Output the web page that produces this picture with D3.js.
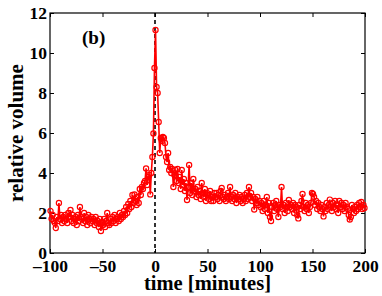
<!DOCTYPE html>
<html>
<head>
<meta charset="utf-8">
<script src="https://cdn.jsdelivr.net/npm/d3@7"></script>
<style>
  body { margin: 0; background: #fff; }
  svg text { font-family: "Liberation Serif", "Times New Roman", serif; font-weight: bold; }
</style>
</head>
<body>
<div id="chart"></div>
<script>
// relative volume, one sample per minute, samples centred on half minutes
var volBefore = [
    2.1, 1.7, 1.9, 1.6, 1.5, 1.25, 1.8, 1.6, 2.5, 1.7,
    1.9, 1.5, 1.8, 1.6, 1.9, 1.7, 1.5, 2.0, 1.8, 2.15,
    1.6, 1.9, 1.5, 1.7, 1.8, 1.4, 1.9, 1.6, 2.3, 1.8,
    1.7, 1.5, 2.0, 1.6, 1.8, 1.4, 1.9, 1.7, 1.5, 1.8,
    1.6, 1.7, 1.4, 1.8, 1.5, 1.6, 1.3, 1.7, 1.1, 1.5,
    1.4, 1.7, 1.3, 1.6, 2.0, 1.5, 1.4, 1.7, 1.5, 1.8,
    1.6, 1.9, 1.5, 1.7, 1.8, 1.6, 2.0, 1.7, 1.9, 1.8,
    2.1, 1.9, 2.3, 2.0, 2.45, 2.2, 2.6, 2.3, 2.9, 2.5,
    2.93, 2.6, 2.4, 2.8, 2.5, 3.2, 2.9, 3.3, 3.2, 3.5,
    3.6, 4.23, 3.4, 3.8, 3.9, 2.93, 4.0, 4.8, 5.98, 9.25
];
var volAfter = [
    11.15, 8.3, 8.0, 6.55, 5.0, 5.75, 5.6, 5.8, 5.75, 5.5,
    4.8, 4.55, 5.0, 4.15, 4.3, 4.0, 4.2, 3.3, 3.9, 4.15,
    3.6, 4.2, 3.5, 3.8, 3.2, 4.15, 3.4, 3.7, 3.1, 3.5,
    2.65, 3.3, 4.4, 3.0, 3.5, 2.9, 3.7, 3.07, 3.2, 2.8,
    3.3, 2.9, 3.1, 2.7, 3.5, 3.0, 2.8, 3.2, 2.6, 3.0,
    2.9, 2.7, 3.1, 2.6, 2.8, 2.6, 3.0, 2.8, 3.0, 2.7,
    2.9, 2.6, 3.1, 3.25, 2.8, 2.7, 2.9, 2.6, 2.8, 3.0,
    2.7, 3.3, 2.8, 2.6, 2.9, 2.7, 3.0, 2.5, 2.8, 2.7,
    2.9, 2.6, 2.8, 2.5, 2.7, 2.9, 2.6, 3.0, 2.7, 3.3,
    2.8, 3.0, 2.6, 2.8, 2.17, 2.7, 2.5, 2.8, 2.4, 2.6,
    2.3, 2.5, 2.1, 2.6, 2.2, 2.4, 2.8, 2.0, 2.5, 1.8,
    1.6, 2.3, 2.5, 2.1, 2.4, 2.6, 2.2, 1.8, 2.4, 2.3,
    3.3, 2.2, 2.4, 2.0, 2.5, 2.3, 2.1, 2.65, 2.3, 2.4,
    2.2, 2.5, 2.0, 2.4, 2.3, 1.9, 1.73, 2.4, 2.2, 2.6,
    2.95, 2.3, 2.1, 2.5, 2.2, 2.4, 2.0, 2.3, 2.5, 3.0,
    2.95, 2.8, 2.4, 2.6, 2.2, 2.5, 2.3, 2.1, 2.4, 2.2,
    1.83, 2.3, 2.1, 2.5, 2.2, 2.4, 2.67, 2.3, 2.1, 2.5,
    2.3, 2.6, 2.2, 2.4, 2.0, 2.6, 2.3, 2.5, 2.2, 2.4,
    2.1, 2.5, 2.3, 2.2, 1.9, 1.67, 1.8, 2.4, 2.2, 2.0,
    2.3, 2.1, 2.4, 2.2, 2.5, 2.3, 2.55, 2.2, 2.4, 2.25
];
var volume = volBefore.concat(volAfter);
// time grid in minutes (-99.5 ... 199.5)
var minutes = d3.range(-99.5, 200, 1);

var xTicks = [-100, -50, 0, 50, 100, 150, 200];
var yTicks = [0, 2, 4, 6, 8, 10, 12];

var data = volume.map(function(v, i) { return { t: minutes[i], v: v }; });

var W = 382, H = 296;
var margin = { top: 13, right: 17, bottom: 43, left: 50 };
var width = W - margin.left - margin.right;
var height = H - margin.top - margin.bottom;

var x = d3.scaleLinear().domain([-100, 200]).range([0, width]);
var y = d3.scaleLinear().domain([0, 12]).range([height, 0]);

var svg = d3.select("#chart").append("svg")
    .attr("width", W)
    .attr("height", H);

var g = svg.append("g")
    .attr("transform", "translate(" + margin.left + "," + margin.top + ")");

// axes with inward ticks on all four sides
function styleAxis(sel) {
    sel.select(".domain").remove();
    sel.selectAll(".tick line").attr("stroke", "#000").attr("stroke-width", 1);
    sel.selectAll("text").attr("font-size", 17.5).attr("fill", "#000");
}

// wider minus like the original
var fmt = function(d) { return d < 0 ? "\u2013" + Math.abs(d) : String(d); };

g.append("g")
    .attr("transform", "translate(0," + height + ")")
    .call(d3.axisBottom(x).tickValues(xTicks).tickSize(-4).tickPadding(7).tickFormat(fmt))
    .call(styleAxis);

g.append("g")
    .call(d3.axisTop(x).tickValues(xTicks).tickSize(-4).tickFormat(""))
    .call(styleAxis);

g.append("g")
    .call(d3.axisLeft(y).tickValues(yTicks).tickSize(-4).tickPadding(3))
    .call(styleAxis);

g.append("g")
    .attr("transform", "translate(" + width + ",0)")
    .call(d3.axisRight(y).tickValues(yTicks).tickSize(-4).tickFormat(""))
    .call(styleAxis);

g.append("rect")
    .attr("width", width)
    .attr("height", height)
    .attr("fill", "none")
    .attr("stroke", "#000")
    .attr("stroke-width", 1.2);

// dashed line at t = 0
g.append("line")
    .attr("x1", x(0)).attr("x2", x(0))
    .attr("y1", y(12)).attr("y2", y(0))
    .attr("stroke", "#000")
    .attr("stroke-width", 1.6)
    .attr("stroke-dasharray", "4,3");

var line = d3.line()
    .x(function(d) { return x(d.t); })
    .y(function(d) { return y(d.v); });

g.append("path")
    .datum(data)
    .attr("d", line)
    .attr("fill", "none")
    .attr("stroke", "#ff0000")
    .attr("stroke-width", 1.6);

g.selectAll("circle")
    .data(data)
    .enter().append("circle")
    .attr("cx", function(d) { return x(d.t); })
    .attr("cy", function(d) { return y(d.v); })
    .attr("r", 2.6)
    .attr("fill", "none")
    .attr("stroke", "#ff0000")
    .attr("stroke-width", 1.2);

// labels
svg.append("text")
    .attr("x", margin.left + width / 2)
    .attr("y", 290)
    .attr("text-anchor", "middle")
    .attr("font-size", 20.5)
    .text("time [minutes]");

svg.append("text")
    .attr("transform", "translate(23," + (margin.top + height / 2) + ") rotate(-90)")
    .attr("text-anchor", "middle")
    .attr("font-size", 21)
    .text("relative volume");

g.append("text")
    .attr("x", 32)
    .attr("y", 31)
    .attr("font-size", 19)
    .text("(b)");
</script>
</body>
</html>
